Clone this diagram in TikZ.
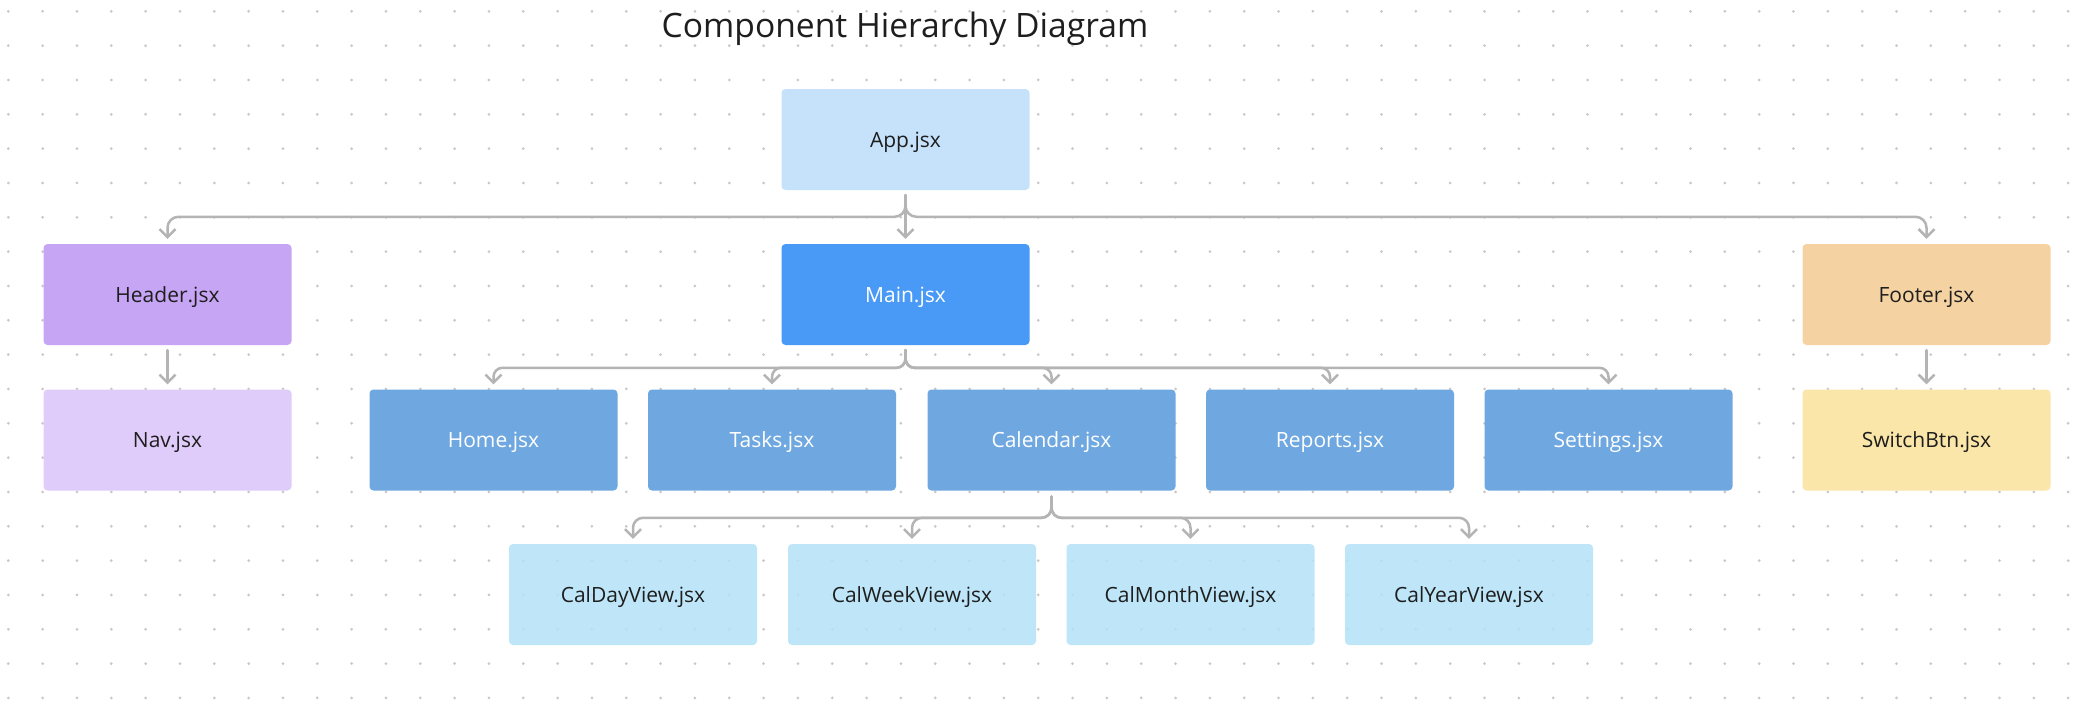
\documentclass[tikz,border=0pt]{standalone}
\usepackage{fontspec}
\setmainfont{Open Sans}
\usetikzlibrary{arrows.meta}
\definecolor{dotc}{RGB}{200,200,200}
\definecolor{linec}{RGB}{180,180,180}
\definecolor{txt}{RGB}{30,30,30}
\definecolor{appc}{RGB}{197,226,250}
\definecolor{hdrc}{RGB}{199,165,245}
\definecolor{navc}{RGB}{224,204,250}
\definecolor{mainc}{RGB}{73,154,247}
\definecolor{pagec}{RGB}{111,168,224}
\definecolor{calc}{RGB}{179,226,247}
\definecolor{ftrc}{RGB}{245,210,162}
\definecolor{swc}{RGB}{250,230,168}
\tikzset{
  box/.style={rectangle, rounded corners=4pt, minimum width=248pt, minimum height=101pt,
    inner sep=0pt, text height=15pt, text depth=0pt,
    font=\fontsize{21}{24}\selectfont, text=txt},
  whitebox/.style={box, text=white},
  calbox/.style={box, fill=calc, fill opacity=0.85, text opacity=1},
  conn/.style={draw=linec, line width=2.5pt, line cap=round, line join=round,
    -{Straight Barb[length=8pt,width=16pt,line width=2.5pt]}},
}
\begin{document}
\begin{tikzpicture}[x=1pt,y=-1pt]
\useasboundingbox (0,0) rectangle (2088,726);
\fill[white] (0,0) rectangle (2088,726);
% dot grid
\foreach \i in {0,...,60}{
  \foreach \j in {0,...,20}{
    \fill[dotc] ({8.33+34.33*\i},{11.33+34.33*\j}) circle (1.5pt);
  }
}
% title
\node[font=\fontsize{33.6}{38}\selectfont, text=txt, anchor=base] (title) at (905,37) {Component Hierarchy Diagram};
% nodes
\node[box, fill=appc] (app) at (905.5,139.5) {App.jsx};
\node[box, fill=hdrc] (hdr) at (167.5,294.5) {Header.jsx};
\node[whitebox, fill=mainc] (main) at (905.5,294.5) {Main.jsx};
\node[box, fill=ftrc] (ftr) at (1926.5,294.5) {Footer.jsx};
\node[box, fill=navc] (nav) at (167.5,440) {Nav.jsx};
\node[whitebox, fill=pagec] (home) at (493.5,440) {Home.jsx};
\node[whitebox, fill=pagec] (tasks) at (772,440) {Tasks.jsx};
\node[whitebox, fill=pagec] (cal) at (1051.5,440) {Calendar.jsx};
\node[whitebox, fill=pagec] (rep) at (1330,440) {Reports.jsx};
\node[whitebox, fill=pagec] (set) at (1608.5,440) {Settings.jsx};
\node[box, fill=swc] (sw) at (1926.5,440) {SwitchBtn.jsx};
\node[calbox] (cday) at (633,594.5) {CalDayView.jsx};
\node[calbox] (cweek) at (912,594.5) {CalWeekView.jsx};
\node[calbox] (cmonth) at (1190.5,594.5) {CalMonthView.jsx};
\node[calbox] (cyear) at (1469,594.5) {CalYearView.jsx};
% App -> row 1
\coordinate (appo) at ([yshift=-5pt]app.south);
\draw[conn, rounded corners=11pt] (appo) |- ([yshift=27pt]hdr.north) -- ([yshift=5pt]hdr.north);
\draw[conn, rounded corners=11pt] (appo) |- ([yshift=27pt]ftr.north) -- ([yshift=5pt]ftr.north);
\draw[conn] (appo) -- ([yshift=5pt]main.north);
% Header -> Nav, Footer -> SwitchBtn
\draw[conn] ([yshift=-5pt]hdr.south) -- ([yshift=5pt]nav.north);
\draw[conn] ([yshift=-5pt]ftr.south) -- ([yshift=5pt]sw.north);
% Main -> pages
\coordinate (maino) at ([yshift=-5pt]main.south);
\foreach \t in {home,tasks,cal,rep,set}{
  \draw[conn, rounded corners=9pt] (maino) |- ([yshift=21.5pt]\t.north) -- ([yshift=5pt]\t.north);
}
% Calendar -> views
\coordinate (calo) at ([yshift=-6pt]cal.south);
\foreach \t in {cday,cweek,cmonth,cyear}{
  \draw[conn, rounded corners=10pt] (calo) |- ([yshift=26pt]\t.north) -- ([yshift=5pt]\t.north);
}
\end{tikzpicture}
\end{document}
